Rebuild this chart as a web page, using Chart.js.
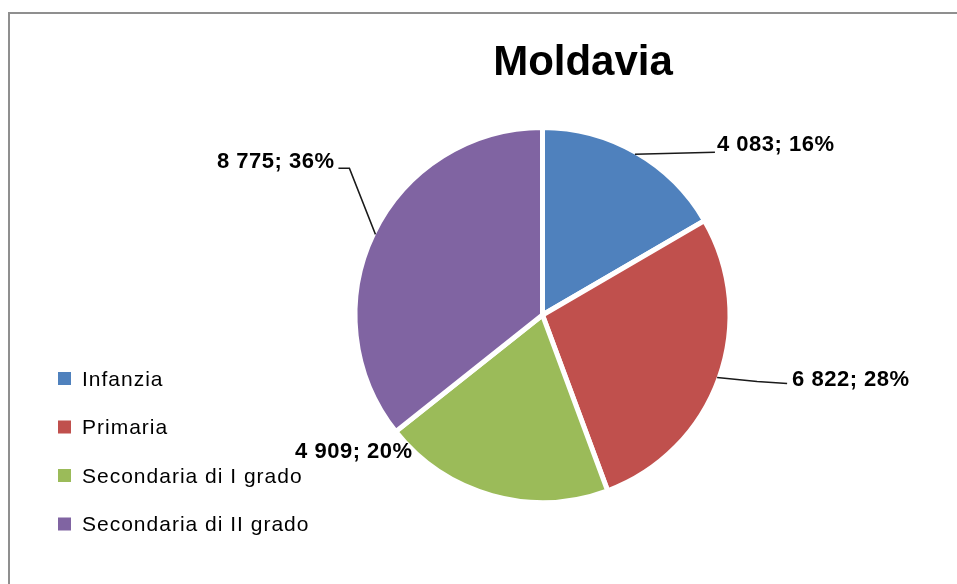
<!DOCTYPE html>
<html>
<head>
<meta charset="utf-8">
<script src="https://cdn.jsdelivr.net/npm/chart.js@4.4.1/dist/chart.umd.min.js"></script>
<style>
html, body { margin: 0; padding: 0; background: #fff; overflow: hidden; }
#wrap { position: relative; width: 957px; height: 584px; }
#cornice { position: absolute; left: 8px; top: 12px; width: 1200px; height: 900px;
  border-top: 2px solid #8f8f8f; border-left: 2px solid #8f8f8f; }
#torta { position: absolute; left: 0; top: 0; }
</style>
</head>
<body>
<div id="wrap">
  <div id="cornice"></div>
  <canvas id="torta"></canvas>
</div>
<script>
const categorie = ["Infanzia", "Primaria", "Secondaria di I grado", "Secondaria di II grado"];
const valori = [4083, 6822, 4909, 8775];
const percentuali = [16, 28, 20, 36];
const colori = ["#4F81BD", "#C0504D", "#9BBB59", "#8064A2"];
const titolo = "Moldavia";

// dove mettere le etichette rispetto al punto sul bordo della fetta
const posEtichette = [
    { dx: 82, dy: -9, align: "left", linea: [[80, -2]] },
    { dx: 75, dy: 2, align: "left", linea: [[40, 4], [70, 6]] },
    { dx: -80, dy: -42, align: "right", linea: null },
    { dx: -41, dy: -72, align: "right", linea: [[-26, -66], [-37, -66]] }
];

function formatta(n) {
    return n.toString().replace(/\B(?=(\d{3})+(?!\d))/g, " ");
}

const pluginEtichette = {
    id: "etichette",
    afterDatasetsDraw(chart) {
        const ctx = chart.ctx;
        const meta = chart.getDatasetMeta(0);
        ctx.save();
        ctx.font = "bold 22px 'Liberation Sans'";
        ctx.letterSpacing = "0.5px";
        ctx.fillStyle = "#000";
        ctx.strokeStyle = "#1a1a1a";
        ctx.lineWidth = 1.5;
        ctx.textBaseline = "middle";
        meta.data.forEach((arc, i) => {
            const p = arc.getProps(["x", "y", "startAngle", "endAngle", "outerRadius"], true);
            const mid = (p.startAngle + p.endAngle) / 2;
            const r = p.outerRadius - 2;
            const ax = p.x + Math.cos(mid) * r;
            const ay = p.y + Math.sin(mid) * r;
            const pos = posEtichette[i];
            if (pos.linea) {
                ctx.beginPath();
                ctx.moveTo(ax, ay);
                pos.linea.forEach(([dx, dy]) => ctx.lineTo(ax + dx, ay + dy));
                ctx.stroke();
            }
            ctx.textAlign = pos.align;
            ctx.fillText(formatta(valori[i]) + "; " + percentuali[i] + "%", ax + pos.dx, ay + pos.dy);
        });
        ctx.restore();
    }
};

const pluginLegendaTitolo = {
    id: "legendaTitolo",
    afterDraw(chart) {
        const ctx = chart.ctx;
        ctx.save();
        ctx.fillStyle = "#000";
        ctx.font = "bold 42px 'Liberation Sans'";
        ctx.textAlign = "center";
        ctx.textBaseline = "middle";
        ctx.fillText(titolo, 583, 63);

        ctx.font = "21px 'Liberation Sans'";
        ctx.letterSpacing = "1px";
        ctx.textAlign = "left";
        categorie.forEach((c, i) => {
            const y = 379 + i * 48.5;
            ctx.fillStyle = colori[i];
            ctx.fillRect(58, y - 7, 13, 13);
            ctx.fillStyle = "#000";
            ctx.fillText(c, 82, y + 1);
        });
        ctx.restore();
    }
};

new Chart(document.getElementById("torta"), {
    type: "pie",
    data: {
        labels: categorie,
        datasets: [{
            data: valori,
            backgroundColor: colori,
            borderColor: "#fff",
            borderWidth: 5
        }]
    },
    options: {
        responsive: true,
        maintainAspectRatio: false,
        animation: false,
        layout: {
            padding: { left: 352, right: 224, top: 125, bottom: 79 }
        },
        plugins: {
            legend: { display: false },
            title: { display: false },
            tooltip: { enabled: false }
        }
    },
    plugins: [pluginEtichette, pluginLegendaTitolo]
});
</script>
</body>
</html>
